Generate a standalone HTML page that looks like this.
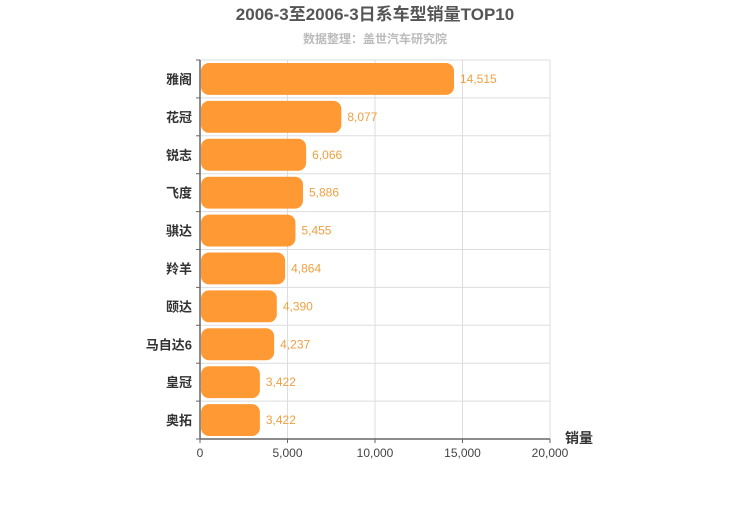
<!DOCTYPE html>
<html><head><meta charset="utf-8"><style>
body{margin:0;background:#fff;}
svg text{font-family:"Liberation Sans","Noto Sans CJK SC",sans-serif;}
</style></head><body>
<svg id="chart" width="750" height="500" xmlns="http://www.w3.org/2000/svg">
<text x="375" y="20" text-anchor="middle" font-size="17" font-weight="bold" fill="#555">2006-3至2006-3日系车型销量TOP10</text>
<text x="375" y="43" text-anchor="middle" font-size="12" font-weight="bold" fill="#bbb">数据整理：盖世汽车研究院</text>
<g id="grid"></g><g id="bars"></g><g id="axes"></g>
<text x="565" y="443" font-size="14" font-weight="bold" fill="#333">销量</text>
</svg>
<script>
const categories=["雅阁","花冠","锐志","飞度","骐达","羚羊","颐达","马自达6","皇冠","奥拓"];
const values=[14515,8077,6066,5886,5455,4864,4390,4237,3422,3422];
const xTicks=[0,5000,10000,15000,20000];
const L=200,R=550,T=60,B=439,XMAX=20000;
const ns="http://www.w3.org/2000/svg";
const x=v=>L+(v/XMAX)*(R-L);
const rowH=(B-T)/categories.length;
const y=i=>T+i*rowH;
function mk(tag,attrs,parent){const e=document.createElementNS(ns,tag);for(const k in attrs)e.setAttribute(k,attrs[k]);parent.appendChild(e);return e;}
const grid=document.getElementById('grid'),bars=document.getElementById('bars'),axes=document.getElementById('axes');
xTicks.forEach(t=>{
 const l=mk('line',{x1:x(t),x2:x(t),y1:T,y2:B,stroke:'#ddd'},grid);
 
 
 const tk=mk('line',{x1:x(t),x2:x(t),y1:B,y2:B+4,stroke:'#666'},axes);
 
 
 const tx=mk('text',{x:x(t),y:B+18,'text-anchor':'middle','font-size':12,fill:'#444'},axes);
 tx.textContent=t.toLocaleString('en-US');
 
 
});
for(let i=0;i<=categories.length;i++){
 const l=mk('line',{x1:L,x2:R,y1:y(i),y2:y(i),stroke:'#ddd'},grid);
 
 
 const tk=mk('line',{x1:L-4,x2:L,y1:y(i),y2:y(i),stroke:'#666'},axes);
 
 
}
categories.forEach((c,i)=>{
 const r=mk('rect',{x:L+1,y:y(i)+3,width:x(values[i])-L-1,height:rowH-6,rx:8,fill:'#ff9933'},bars);
 
 
 const v=mk('text',{x:x(values[i])+6,y:y(i)+rowH/2+4,'font-size':12,fill:'#f0a040'},bars);
 v.textContent=values[i].toLocaleString('en-US');
 
 
 const lb=mk('text',{x:L-8,y:y(i)+rowH/2+5,'text-anchor':'end','font-size':13,'font-weight':'bold',fill:'#333'},axes);
 lb.textContent=c;
 
 
});
const ya=mk('line',{x1:L,x2:L,y1:T,y2:B,stroke:'#666','stroke-width':1.5},axes);


const xa=mk('line',{x1:L,x2:R,y1:B,y2:B,stroke:'#666','stroke-width':1.5},axes);


</script>
</body></html>
